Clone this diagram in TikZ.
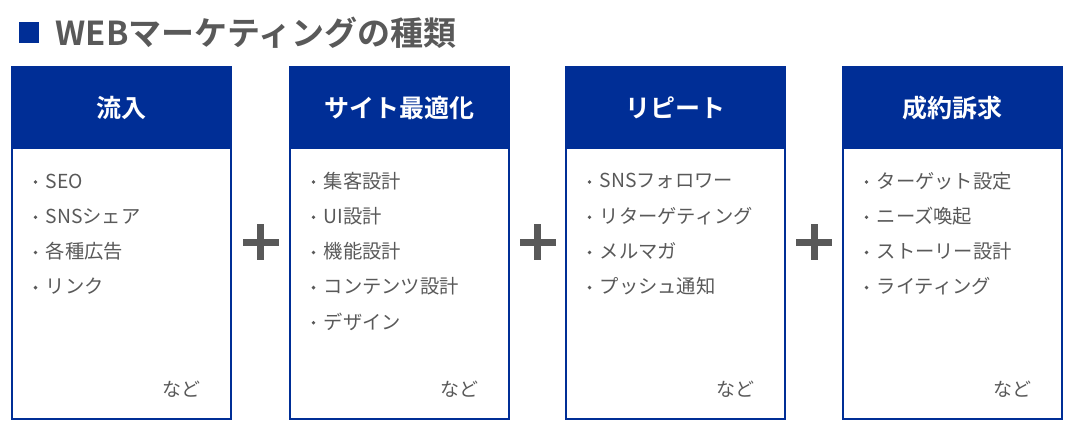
\documentclass[tikz,border=0pt]{standalone}
\usepackage{fontspec}
\setmainfont{Noto Sans CJK JP}
\newfontfamily\jpbold{Noto Sans CJK JP Bold}
\definecolor{navy}{RGB}{0,46,150}
\definecolor{txtgray}{RGB}{89,89,89}
\tikzset{
  boxframe/.style={draw=navy, line width=2pt, fill=white},
  headfill/.style={fill=navy},
  headtext/.style={text=white, font=\jpbold\fontsize{25}{29}\selectfont, inner sep=0pt},
  itemtext/.style={text=txtgray, font=\fontsize{19.3}{23}\selectfont, anchor=west, inner sep=0pt},
  bulletdot/.style={fill=txtgray, circle, inner sep=0pt, minimum size=3.8pt},
  etctext/.style={text=txtgray, font=\fontsize{19}{23}\selectfont, anchor=east, inner sep=0pt},
  plusbar/.style={fill=txtgray}
}
\begin{document}
\begin{tikzpicture}[x=1pt,y=-1pt]
\useasboundingbox (0,0) rectangle (1078,434);
\fill[navy] (19,22) rectangle (39,43);
\node[anchor=west, inner sep=0pt, text=txtgray, font=\jpbold\fontsize{33}{38}\selectfont] (title) at (55.5,33) {WEBマーケティングの種類};
% boxes
\foreach \i/\lx/\head in {1/12/流入, 2/290/サイト最適化, 3/566/リピート, 4/843/成約訴求}{
  \fill[navy] (\lx,67) rectangle ({\lx+219},149);
  \draw[boxframe, fill=none] (\lx,67) rectangle ({\lx+219},419);
  \node[headtext] (head\i) at ({\lx+109.5},108) {\head};
  \node[etctext] (etc\i) at ({\lx+189},389) {など};
}
% items
\foreach \lx/\k/\t in {12/0/SEO, 12/1/SNSシェア, 12/2/各種広告, 12/3/リンク,
  290/0/集客設計, 290/1/UI設計, 290/2/機能設計, 290/3/コンテンツ設計, 290/4/デザイン,
  566/0/SNSフォロワー, 566/1/リターゲティング, 566/2/メルマガ, 566/3/プッシュ通知,
  843/0/ターゲット設定, 843/1/ニーズ喚起, 843/2/ストーリー設計, 843/3/ライティング}{
  \node[bulletdot] (b\lx-\k) at ({\lx+23.5},{182+35.2*\k}) {};
  \node[itemtext] (t\lx-\k) at ({\lx+33.5},{181+35.2*\k}) {\t};
}
% plus signs
\foreach \cx in {260.5,537.5,814}{
  \fill[plusbar] ({\cx-18},238.5) rectangle ({\cx+18},245.5);
  \fill[plusbar] ({\cx-3.5},224) rectangle ({\cx+3.5},260);
}
\end{tikzpicture}
\end{document}
